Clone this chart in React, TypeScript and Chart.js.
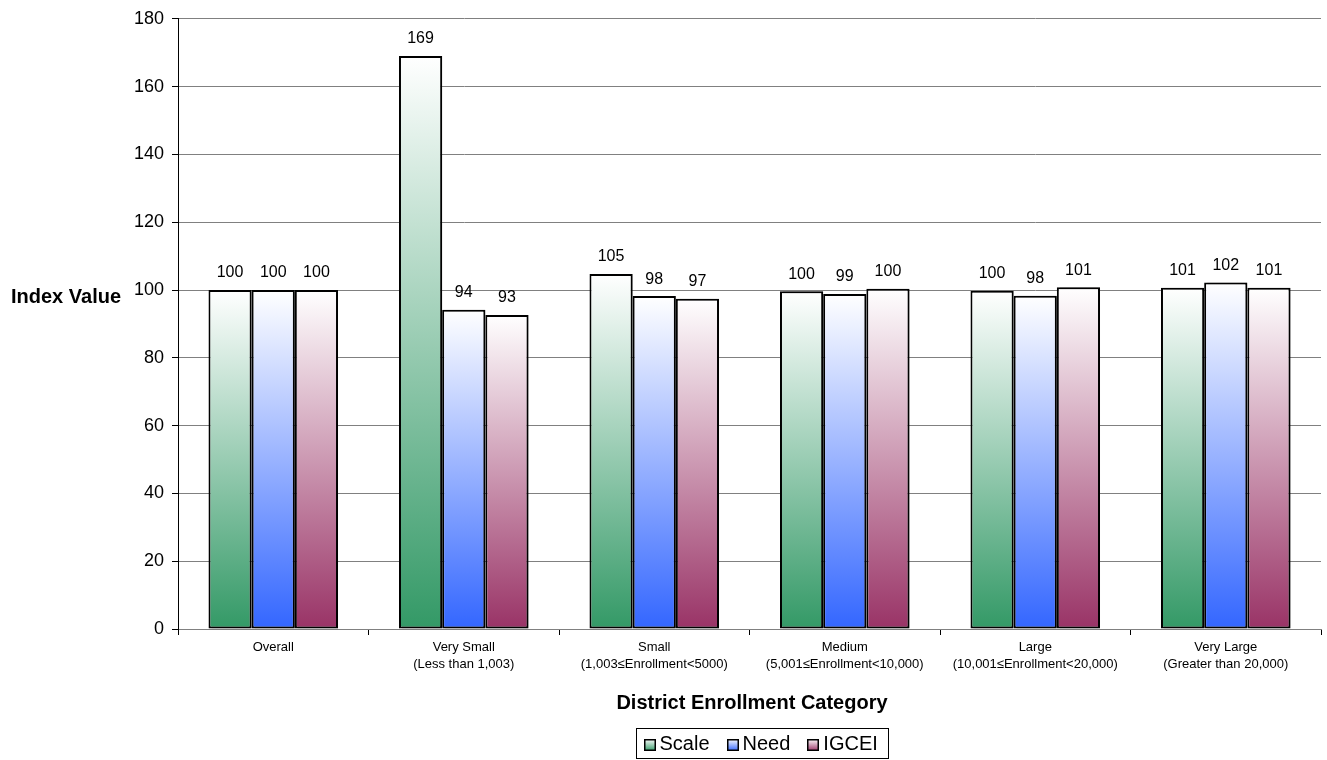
import React, { useEffect, useRef } from "react";
import { Chart, registerables } from "chart.js";

Chart.register(...registerables);

const categories: string[][] = [
  ["Overall"],
  ["Very Small", "(Less than 1,003)"],
  ["Small", "(1,003\u2264Enrollment<5000)"],
  ["Medium", "(5,001\u2264Enrollment<10,000)"],
  ["Large", "(10,001\u2264Enrollment<20,000)"],
  ["Very Large", "(Greater than 20,000)"],
];
const scaleValues = [100, 169, 104.7, 99.6, 99.8, 100.7];
const needValues = [100, 94.2, 98.2, 98.8, 98.3, 102.2];
const igceiValues = [100, 92.6, 97.4, 100.4, 100.8, 100.7];
const seriesNames = ["Scale", "Need", "IGCEI"];
const seriesColors = ["#339966", "#3366FF", "#993366"];
const yTicks = [0, 20, 40, 60, 80, 100, 120, 140, 160, 180];

const FONT = "'Liberation Sans', Arial, sans-serif";

function makeGradient(ctx: CanvasRenderingContext2D, top: number, bottom: number, color: string) {
  const g = ctx.createLinearGradient(0, top, 0, bottom);
  g.addColorStop(0, "#FFFFFF");
  g.addColorStop(1, color);
  return g;
}

const extrasPlugin = {
  id: "extras",
  beforeDatasetsDraw(chart: any) {
    const ctx = chart.ctx;
    ctx.save();
    ctx.shadowColor = "rgba(0,0,0,0.25)";
    ctx.shadowOffsetX = 3;
    ctx.shadowOffsetY = 0;
    ctx.shadowBlur = 0;
  },
  afterDatasetsDraw(chart: any) {
    const ctx = chart.ctx;
    ctx.restore();
    ctx.save();
    ctx.font = `16px ${FONT}`;
    ctx.fillStyle = "#000";
    ctx.textAlign = "center";
    ctx.textBaseline = "bottom";
    chart.data.datasets.forEach((ds: any, di: number) => {
      const meta = chart.getDatasetMeta(di);
      meta.data.forEach((bar: any, i: number) => {
        ctx.fillText(String(Math.round(ds.data[i])), bar.x, bar.y - 9);
      });
    });
    ctx.restore();
  },
  afterDraw(chart: any) {
    const ctx = chart.ctx;
    ctx.save();
    // Y title
    ctx.font = `bold 20px ${FONT}`;
    ctx.fillStyle = "#000";
    ctx.textAlign = "left";
    ctx.textBaseline = "middle";
    ctx.fillText("Index Value", 11, 297);
    // X title
    ctx.textAlign = "center";
    ctx.fillText("District Enrollment Category", 752, 703);
    // Legend
    ctx.font = `20px ${FONT}`;
    const sq = 12;
    const gapAfterSq = 4;
    const itemGap = 17;
    const padL = 7;
    const padR = 10;
    const widths = seriesNames.map((n) => ctx.measureText(n).width);
    const inner = widths.reduce((a, w) => a + sq + gapAfterSq + w, 0) + itemGap * (seriesNames.length - 1);
    const total = inner + padL + padR;
    const cx = 762;
    const boxLeft = Math.round(cx - total / 2) + 0.5;
    const boxRight = Math.round(cx + total / 2) + 0.5;
    const boxTop = 728.5;
    const boxBottom = 758.5;
    ctx.fillStyle = "#fff";
    ctx.fillRect(boxLeft, boxTop, boxRight - boxLeft, boxBottom - boxTop);
    ctx.strokeStyle = "#000";
    ctx.lineWidth = 1;
    ctx.strokeRect(boxLeft, boxTop, boxRight - boxLeft, boxBottom - boxTop);
    let x = boxLeft + padL;
    const cy = (boxTop + boxBottom) / 2;
    seriesNames.forEach((n, i) => {
      const t = Math.round(cy - sq / 2) + 1;
      const l = Math.round(x);
      ctx.fillStyle = makeGradient(ctx, t, t + sq, seriesColors[i]);
      ctx.fillRect(l, t, sq, sq);
      ctx.strokeStyle = "#000";
      ctx.lineWidth = 1.5;
      ctx.strokeRect(l + 0.75, t + 0.75, sq - 1.5, sq - 1.5);
      x += sq + gapAfterSq;
      ctx.fillStyle = "#000";
      ctx.textAlign = "left";
      ctx.textBaseline = "middle";
      ctx.fillText(n, x, cy + 1);
      x += widths[i] + itemGap;
    });
    ctx.restore();
  },
};

export default function App() {
  const canvasRef = useRef<HTMLCanvasElement | null>(null);

  useEffect(() => {
    document.body.style.margin = "0";
    const canvas = canvasRef.current;
    if (!canvas) return;
    const seriesData = [scaleValues, needValues, igceiValues];
    const chart = new Chart(canvas, {
      type: "bar",
      data: {
        labels: categories,
        datasets: seriesData.map((d, i) => ({
          label: seriesNames[i],
          data: d,
          borderColor: "#000",
          borderWidth: 2,
          borderSkipped: false,
          categoryPercentage: 0.68,
          barPercentage: 1,
          backgroundColor: (c: any) => {
            const ch = c.chart;
            const area = ch.chartArea;
            if (!area || c.raw === undefined || !ch.scales.y) return seriesColors[i];
            const top = ch.scales.y.getPixelForValue(c.raw);
            const bottom = ch.scales.y.getPixelForValue(0);
            if (!isFinite(top) || !isFinite(bottom) || top === bottom) return seriesColors[i];
            return makeGradient(ch.ctx, top, bottom, seriesColors[i]);
          },
        })),
      },
      options: {
        responsive: false,
        animation: false,
        layout: { padding: { top: 17, right: 6, left: 0, bottom: 0 } },
        plugins: {
          legend: { display: false },
          tooltip: { enabled: false },
        },
        scales: {
          x: {
            offset: true,
            grid: {
              offset: true,
              drawOnChartArea: false,
              drawTicks: true,
              tickLength: 6,
              color: "#000",
            },
            border: { color: "#808080", width: 1 },
            ticks: {
              color: "#000",
              font: { family: FONT, size: 13, lineHeight: 1.3 },
              maxRotation: 0,
              autoSkip: false,
              padding: 4,
            },
            afterFit: (s: any) => {
              s.height = 131;
            },
          },
          y: {
            min: 0,
            max: 180,
            afterBuildTicks: (s: any) => {
              s.ticks = yTicks.map((v) => ({ value: v }));
            },
            grid: {
              color: "#808080",
              tickColor: "#000",
              tickLength: 6,
              drawTicks: true,
            },
            border: { color: "#000", width: 1 },
            ticks: {
              color: "#000",
              font: { family: FONT, size: 18 },
              padding: 8,
            },
            afterFit: (s: any) => {
              s.width = 178;
            },
          },
        },
      },
      plugins: [extrasPlugin],
    });
    return () => chart.destroy();
  }, []);

  return (
    <div style={{ position: "absolute", left: 0, top: 0, width: 1327, height: 760, background: "#fff" }}>
      <canvas ref={canvasRef} width={1327} height={760} style={{ display: "block" }} />
    </div>
  );
}
